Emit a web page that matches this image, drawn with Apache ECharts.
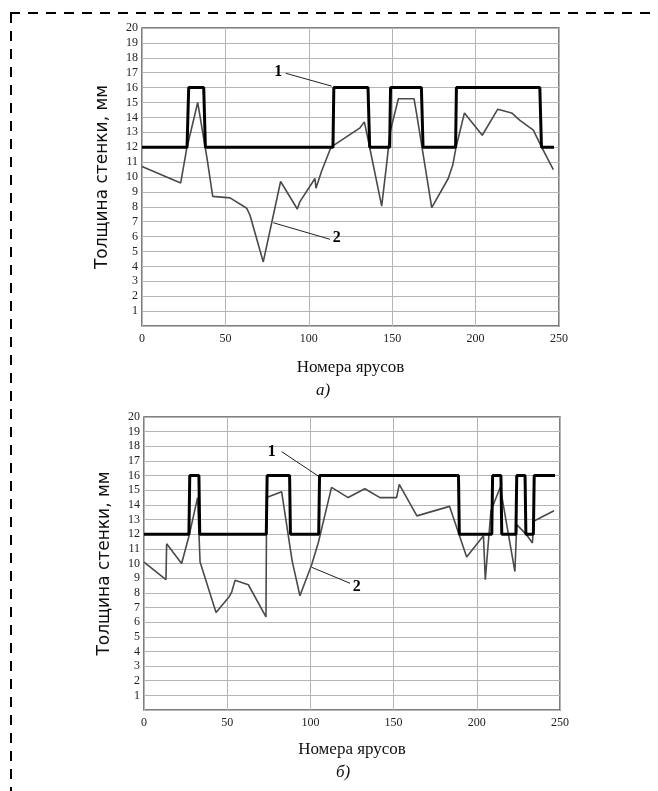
<!DOCTYPE html>
<html><head><meta charset="utf-8">
<script src="https://cdn.jsdelivr.net/npm/echarts@6/dist/echarts.min.js"></script>
<style>html,body{margin:0;padding:0;background:#fff}#c{width:658px;height:791px}</style>
</head><body><div id="c"></div>
<script>
// Chart a) — series 1 (design thickness, step line)
var a1X = [0, 27, 28, 37, 38, 114.5, 115, 135.5, 136.5, 148.5, 149, 167.5, 168.5, 188, 188.5, 238.5, 239.5, 247];
var a1Y = [12, 12, 16, 16, 12, 12, 16, 16, 12, 12, 16, 16, 12, 12, 16, 16, 12, 12];
// Chart a) — series 2 (measured thickness)
var a2X = [0, 23.2, 26.8, 33.4, 39.2, 42.4, 52.8, 62.8, 64.7, 72.7, 83.1, 93.1, 94.7, 103.7, 104.3, 107.7, 113.3, 130.7, 133.3, 135, 143.7, 146.7, 148.7, 153.7, 163.1, 164.7, 173.7, 183.6, 186.3, 188.3, 193.3, 204, 213.3, 221.6, 226.6, 234.6, 239.6, 246.6];
var a2Y = [10.7, 9.6, 11.9, 15.0, 11.1, 8.7, 8.6, 7.9, 7.45, 4.3, 9.7, 7.85, 8.35, 9.9, 9.25, 10.4, 12.0, 13.3, 13.7, 12.8, 8.05, 10.9, 13.0, 15.25, 15.25, 14.2, 7.95, 9.9, 10.8, 12.0, 14.3, 12.8, 14.55, 14.3, 13.8, 13.15, 12.0, 10.5];
// Chart б) — series 1
var b1X = [0, 27, 27.5, 33, 33.5, 73.5, 74, 87.5, 88, 105, 105.5, 189, 189.5, 209, 209.5, 214.5, 215, 223.5, 224, 229, 229.5, 234, 234.5, 247];
var b1Y = [12, 12, 16, 16, 12, 12, 16, 16, 12, 12, 16, 16, 12, 12, 16, 16, 12, 12, 16, 16, 12, 12, 16, 16];
// Chart б) — series 2
var b2X = [0, 13.2, 13.6, 22.6, 27.2, 32.2, 33.7, 43.3, 51.3, 52.7, 54.7, 62.7, 73.3, 73.7, 82.7, 89, 93.7, 100.7, 104.7, 112.7, 122.7, 132.7, 141.8, 151.8, 153.4, 164, 183.6, 193.9, 204, 205.1, 208.5, 214.1, 222.9, 224, 230, 233.4, 234.4, 246.4];
var b2Y = [10.1, 8.9, 11.35, 10.0, 11.95, 14.5, 10.1, 6.65, 7.75, 8.05, 8.85, 8.55, 6.35, 14.5, 14.9, 10.2, 7.8, 9.9, 11.4, 15.2, 14.5, 15.1, 14.5, 14.5, 15.4, 13.25, 13.9, 10.45, 11.9, 8.9, 13.6, 15.2, 9.45, 12.65, 11.95, 11.4, 12.9, 13.6];
var xTicks = [0, 50, 100, 150, 200, 250];
var yTicks = [1,2,3,4,5,6,7,8,9,10,11,12,13,14,15,16,17,18,19,20];
var xTitle = 'Номера ярусов';
var yTitle = 'Толщина стенки, мм';
var captions = ['а)', 'б)'];

function zip(xs, ys){ return xs.map(function(x,i){ return [x, ys[i]]; }); }

var serif = '"Liberation Serif", "DejaVu Serif", serif';
function xAx(gi, gap){
  return {type:'value', gridIndex:gi, min:0, max:250, interval:50,
    axisLine:{show:false}, axisTick:{show:false},
    axisLabel:{color:'#222', fontFamily:serif, fontSize:12, margin:7,
      formatter:function(v){ return xTicks.indexOf(v)>=0 ? String(v) : ''; }},
    splitLine:{show:true, lineStyle:{color:'#b5b5b5', width:1}},
    name:xTitle, nameLocation:'middle', nameGap:gap,
    nameTextStyle:{color:'#111', fontFamily:serif, fontSize:17}};
}
function yAx(gi){
  return {type:'value', gridIndex:gi, min:0, max:20, interval:1,
    axisLine:{show:false}, axisTick:{show:false},
    axisLabel:{color:'#222', fontFamily:serif, fontSize:12, margin:4,
      formatter:function(v){ return yTicks.indexOf(v)>=0 ? String(v) : ''; }},
    splitLine:{show:true, lineStyle:{color:'#b5b5b5', width:1}},
    name:yTitle, nameLocation:'middle', nameGap:31, nameRotate:90,
    nameTextStyle:{color:'#111', fontFamily:'"DejaVu Sans", sans-serif', fontSize:17}};
}
var thick = {color:'#000', width:3};
var thin = {color:'#4a4a4a', width:1.6};
function ann(label, txt, p0, p1){
  return {
    markLine:{silent:true, symbol:'none', animation:false, label:{show:false},
      lineStyle:{color:'#222', width:1, type:'solid'},
      data:[[{coord:p0},{coord:p1}]]},
    markPoint:{silent:true, symbol:'circle', symbolSize:0, animation:false,
      label:{show:true, formatter:label, color:'#000', fontFamily:serif, fontWeight:'bold', fontSize:16, position:'inside'},
      data:[{coord:txt}]}
  };
}
function line(name, xi, data, ls, z, a){
  var s = {type:'line', name:name, xAxisIndex:xi, yAxisIndex:xi, data:data, showSymbol:false,
    symbol:'none', lineStyle:ls, z:z, animation:false};
  if (a) { s.markLine = a.markLine; s.markPoint = a.markPoint; }
  return s;
}
var chart = echarts.init(document.getElementById('c'), null, {renderer:'canvas'});
chart.setOption({
  backgroundColor:'#fff',
  grid:[
    {left:142, top:28, width:417, height:298, show:true, borderColor:'#555', borderWidth:1.5, backgroundColor:'transparent'},
    {left:144, top:417, width:416, height:293, show:true, borderColor:'#555', borderWidth:1.5, backgroundColor:'transparent'}
  ],
  xAxis:[xAx(0, 33), xAx(1, 31)],
  yAxis:[yAx(0), yAx(1)],
  series:[
    line('a2', 0, zip(a2X, a2Y), thin, 2, ann('2', [116.7, 5.9], [112.7, 5.82], [78.7, 6.93])),
    line('a1', 0, zip(a1X, a1Y), thick, 3, ann('1', [81.7, 17.07], [86.2, 16.96], [113.7, 16.1])),
    line('b2', 1, zip(b2X, b2Y), thin, 2, ann('2', [127.8, 8.42], [123.8, 8.65], [100.8, 9.74])),
    line('b1', 1, zip(b1X, b1Y), thick, 3, ann('1', [76.7, 17.63], [82.8, 17.63], [104.7, 15.97]))
  ],
  graphic:[
    {type:'line', shape:{x1:10, y1:13, x2:658, y2:13}, style:{stroke:'#000', lineWidth:2, lineDash:[10,8]}},
    {type:'line', shape:{x1:11, y1:13, x2:11, y2:791}, style:{stroke:'#000', lineWidth:2, lineDash:[10,8]}},
    {type:'text', left:316, top:382, style:{text:captions[0], font:'italic 17px "Liberation Serif", serif', fill:'#111'}},
    {type:'text', left:336, top:764, style:{text:captions[1], font:'italic 17px "Liberation Serif", serif', fill:'#111'}}
  ]
});
</script></body></html>
